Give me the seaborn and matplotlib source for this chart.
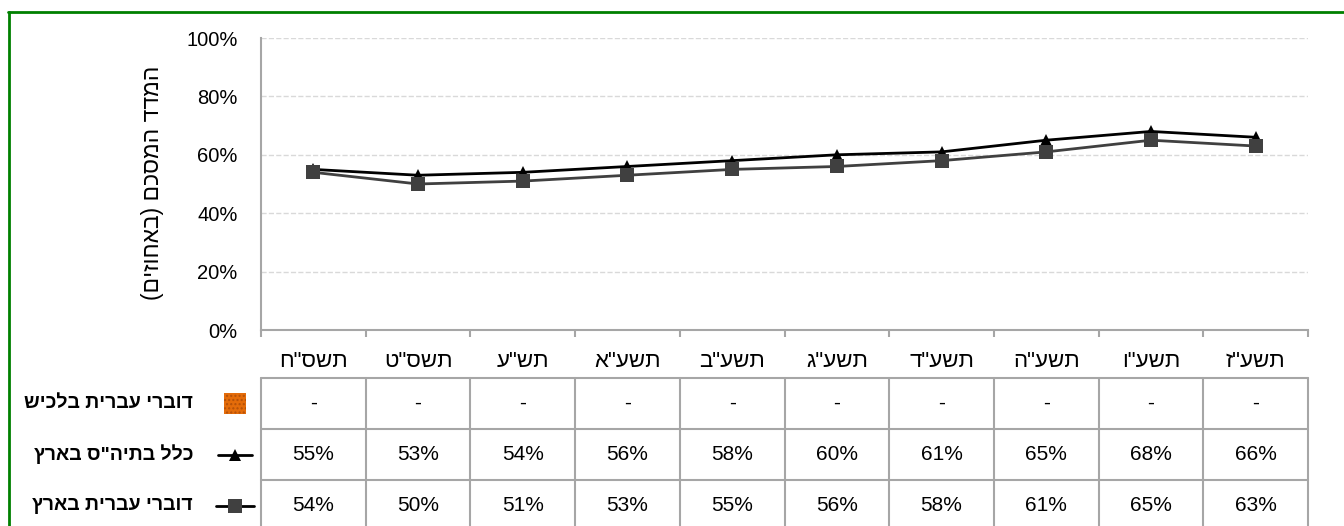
import numpy as np
import pandas as pd
import seaborn as sns
import matplotlib.pyplot as plt
from matplotlib.lines import Line2D
from matplotlib.patches import Rectangle
from matplotlib.transforms import blended_transform_factory

# data
years = ['תשס"ח', 'תשס"ט', 'תש"ע', 'תשע"א', 'תשע"ב', 'תשע"ג', 'תשע"ד', 'תשע"ה', 'תשע"ו', 'תשע"ז']
lachish = [None] * 10
all_schools = [55, 53, 54, 56, 58, 60, 61, 65, 68, 66]
hebrew_il = [54, 50, 51, 53, 55, 56, 58, 61, 65, 63]
series_names = ['דוברי עברית בלכיש', 'כלל בתיה"ס בארץ', 'דוברי עברית בארץ']
y_ticks = [0, 20, 40, 60, 80, 100]
y_title = 'המדד המסכם (באחוזים)'


def rtl(s):
    # matplotlib has no bidi support, so flip to visual order
    return s[::-1].translate(str.maketrans('()', ')('))


sns.set_theme(style='white')
plt.rcParams['font.family'] = ['Liberation Sans', 'DejaVu Sans']
plt.rcParams['text.color'] = 'black'
plt.rcParams['xtick.color'] = 'black'
plt.rcParams['ytick.color'] = 'black'

W, H = 1344, 526
fig = plt.figure(figsize=(W / 100, H / 100), dpi=100)

ax = fig.add_axes([261 / W, 1 - 330 / H, 1047 / W, 292 / H])
x = np.arange(len(years))
df = pd.DataFrame({'x': x, 'all': all_schools, 'heb': hebrew_il})

sns.lineplot(data=df, x='x', y='all', ax=ax, color='black', lw=2,
             marker='^', markersize=9, markeredgewidth=0)
sns.lineplot(data=df, x='x', y='heb', ax=ax, color='#404040', lw=2,
             marker='s', markersize=10, markeredgewidth=0)

ax.set_xlim(-0.5, len(years) - 0.5)
ax.set_ylim(0, 100)
ax.set_yticks(y_ticks)
ax.set_yticklabels([f'{v}%' for v in y_ticks], fontsize=14.5)
ax.tick_params(axis='y', length=0, pad=17)
ax.set_xticks(np.arange(-0.5, len(years), 1))
ax.set_xticklabels([])
ax.set_xticks(x, minor=True)
ax.set_xticklabels([rtl(y) for y in years], minor=True, fontsize=16)
ax.tick_params(axis='x', which='major', direction='out', length=5,
               width=1.5, color='#a6a6a6', bottom=True)
ax.tick_params(axis='x', which='minor', length=0, pad=15, bottom=True)
ax.set_xlabel('')
ax.set_ylabel('')
ax.yaxis.grid(True, linestyle='--', color='#d9d9d9', lw=1)
for side in ['top', 'right']:
    ax.spines[side].set_visible(False)
for side in ['left', 'bottom']:
    ax.spines[side].set_color('#a6a6a6')
    ax.spines[side].set_linewidth(1.5)

fig.text(153 / W, 1 - 183 / H, rtl(y_title), rotation=90,
         ha='center', va='center', fontsize=16.5)

# data table under the chart
tab = fig.add_axes([261 / W, 1 - 531 / H, 1047 / W, 153 / H])
tab.set_xlim(-0.5, len(years) - 0.5)
tab.set_ylim(0, 3)
tab.axis('off')
grid_kw = dict(color='#a6a6a6', lw=1.5, clip_on=False)
for yy in [1, 2, 3]:
    tab.plot([-0.5, len(years) - 0.5], [yy, yy], **grid_kw)
for xx in np.arange(-0.5, len(years), 1):
    tab.plot([xx, xx], [0, 3], **grid_kw)

rows = [lachish, all_schools, hebrew_il]
for r, vals in enumerate(rows):
    yc = 2.5 - r
    for i, v in enumerate(vals):
        txt = '-' if v is None else f'{v}%'
        tab.text(i, yc, txt, ha='center', va='center', fontsize=15)

tr = blended_transform_factory(fig.transFigure, tab.transData)
for r, name in enumerate(series_names):
    tab.text(193 / W, 2.5 - r, rtl(name), transform=tr, ha='right',
             va='center', fontsize=14, fontweight='bold')

tab.add_patch(Rectangle((224 / W, 2.5 - 0.21), 22 / W, 0.42, transform=tr,
                        facecolor='#E46C0A', edgecolor='#B45008', lw=0,
                        hatch='....', clip_on=False))
tab.add_line(Line2D([218 / W, 252 / W], [1.5, 1.5], transform=tr, color='black',
                    lw=2, clip_on=False))
tab.add_line(Line2D([235 / W], [1.5], transform=tr, color='black', marker='^',
                    markersize=9, markeredgewidth=0, clip_on=False))
tab.add_line(Line2D([216 / W, 254 / W], [0.5, 0.5], transform=tr, color='black',
                    lw=2, clip_on=False))
tab.add_line(Line2D([235 / W], [0.5], transform=tr, color='#404040', marker='s',
                    markersize=10, markeredgewidth=0, clip_on=False))

# green frame (only top and left edges show)
fig.add_artist(Line2D([8 / W, 1], [1 - 12 / H, 1 - 12 / H], transform=fig.transFigure,
                      color='#008000', lw=2))
fig.add_artist(Line2D([9 / W, 9 / W], [0, 1 - 12 / H], transform=fig.transFigure,
                      color='#008000', lw=2))

fig.savefig('out.png', dpi=100)
